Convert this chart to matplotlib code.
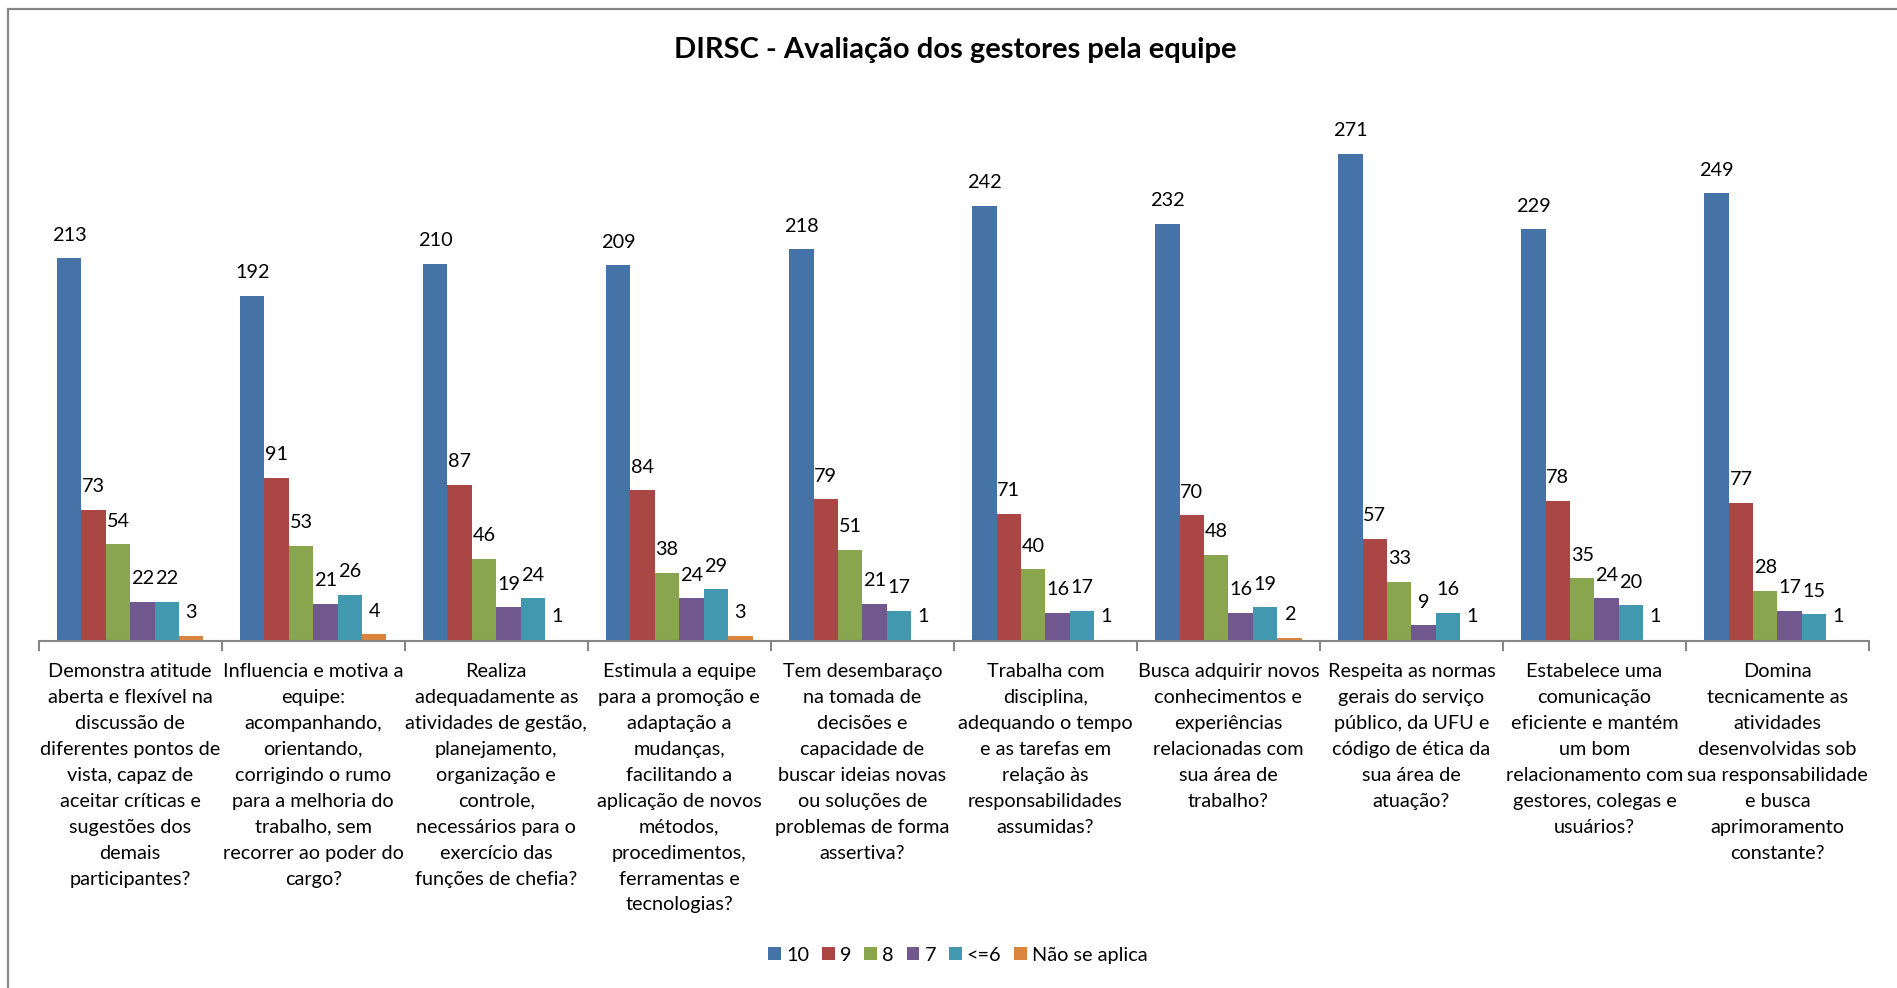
import matplotlib.pyplot as plt
from matplotlib.patches import Rectangle, Patch
import numpy as np

plt.rcParams['font.family'] = ['Lato', 'DejaVu Sans']

categories = [
    "Demonstra atitude\naberta e flexível na\ndiscussão de\ndiferentes pontos de\nvista, capaz de\naceitar críticas e\nsugestões dos\ndemais\nparticipantes?",
    "Influencia e motiva a\nequipe:\nacompanhando,\norientando,\ncorrigindo o rumo\npara a melhoria do\ntrabalho, sem\nrecorrer ao poder do\ncargo?",
    "Realiza\nadequadamente as\natividades de gestão,\nplanejamento,\norganização e\ncontrole,\nnecessários para o\nexercício das\nfunções de chefia?",
    "Estimula a equipe\npara a promoção e\nadaptação a\nmudanças,\nfacilitando a\naplicação de novos\nmétodos,\nprocedimentos,\nferramentas e\ntecnologias?",
    "Tem desembaraço\nna tomada de\ndecisões e\ncapacidade de\nbuscar ideias novas\nou soluções de\nproblemas de forma\nassertiva?",
    "Trabalha com\ndisciplina,\nadequando o tempo\ne as tarefas em\nrelação às\nresponsabilidades\nassumidas?",
    "Busca adquirir novos\nconhecimentos e\nexperiências\nrelacionadas com\nsua área de\ntrabalho?",
    "Respeita as normas\ngerais do serviço\npúblico, da UFU e\ncódigo de ética da\nsua área de\natuação?",
    "Estabelece uma\ncomunicação\neficiente e mantém\num bom\nrelacionamento com\ngestores, colegas e\nusuários?",
    "Domina\ntecnicamente as\natividades\ndesenvolvidas sob\nsua responsabilidade\ne busca\naprimoramento\nconstante?",
]

series_names = ["10", "9", "8", "7", "<=6", "Não se aplica"]

nota_10 = [213, 192, 210, 209, 218, 242, 232, 271, 229, 249]
nota_9 = [73, 91, 87, 84, 79, 71, 70, 57, 78, 77]
nota_8 = [54, 53, 46, 38, 51, 40, 48, 33, 35, 28]
nota_7 = [22, 21, 19, 24, 21, 16, 16, 9, 24, 17]
nota_6 = [22, 26, 24, 29, 17, 17, 19, 16, 20, 15]
nao_aplica = [3, 4, 1, 3, 1, 1, 2, 1, 1, 1]

colors = ["#4572A7", "#AA4643", "#89A54E", "#71588F", "#4198AF", "#DB843D"]

W, H = 1897, 988
fig = plt.figure(figsize=(W / 100, H / 100), dpi=100)

# plot area in pixels
x0, x1 = 38.7, 1869
y_base, y_top = 641.3, 101.6
ax = fig.add_axes([x0 / W, 1 - y_base / H, (x1 - x0) / W, (y_base - y_top) / H])

fs = 14.3
all_series = [nota_10, nota_9, nota_8, nota_7, nota_6, nao_aplica]
n = len(all_series)
bw = 0.8 / n
x = np.arange(len(categories))

for i, (vals, col, name) in enumerate(zip(all_series, colors, series_names)):
    pos = x + (i - (n - 1) / 2) * bw
    bars = ax.bar(pos, vals, width=bw, color=col, label=name, zorder=2)
    for b, v in zip(bars, vals):
        ax.annotate(str(v), (b.get_x() + b.get_width() / 2, v),
                    xytext=(0, 10.5), textcoords='offset points',
                    ha='center', va='bottom', fontsize=fs, color='black')

ax.set_xlim(-0.5, len(categories) - 0.5)
ax.set_ylim(0, 300)

for s in ['top', 'right', 'left']:
    ax.spines[s].set_visible(False)
ax.spines['bottom'].set_color('#868686')
ax.spines['bottom'].set_linewidth(1.5)
ax.set_yticks([])

ax.set_xticks(x)
ax.set_xticklabels(categories, fontsize=fs, linespacing=1.64, va='top')
ax.tick_params(axis='x', which='major', length=0, pad=15.5)
ax.set_xticks(np.arange(-0.5, len(categories), 1), minor=True)
ax.tick_params(axis='x', which='minor', length=7, width=1.5, color='#868686', direction='out')

fig.text(955 / W, 1 - 50 / H, "DIRSC - Avaliação dos gestores pela equipe",
         ha='center', va='center', fontsize=21, fontweight='bold')

handles = [Patch(facecolor=c, label=l) for c, l in zip(colors, series_names)]
fig.legend(handles=handles, loc='center', bbox_to_anchor=(958 / W, 1 - 955 / H),
           ncol=6, frameon=False, fontsize=fs, handlelength=0.65, handleheight=0.65,
           handletextpad=0.25, columnspacing=0.65)

# outer chart frame (only top and left visible)
fig.patches.append(Rectangle((8 / W, -0.1), 1.2, 1.1 - 9 / H, transform=fig.transFigure,
                             fill=False, edgecolor='#878787', linewidth=1.6))

fig.savefig('out.png', dpi=100)
